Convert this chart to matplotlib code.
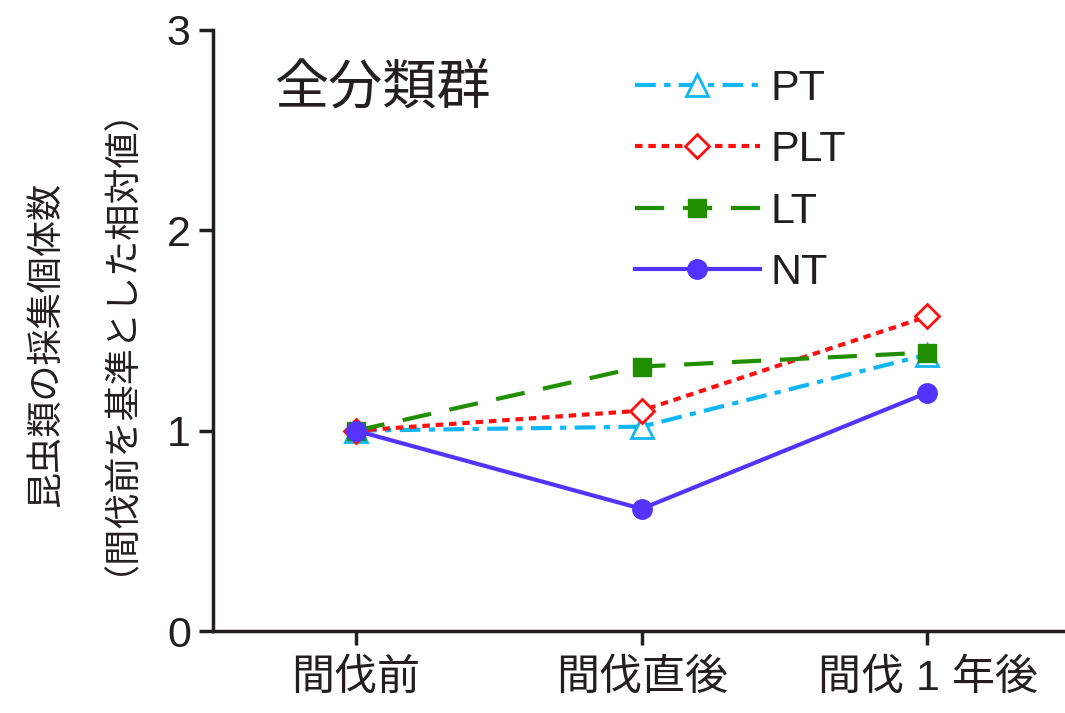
import matplotlib
matplotlib.use("Agg")
import matplotlib.pyplot as plt

plt.rcParams['font.family'] = ['Liberation Sans', 'Noto Sans CJK JP', 'DejaVu Sans']

# data
periods = ['間伐前', '間伐直後', '間伐 1 年後']
pt = [1.0, 1.02, 1.38]
plt_vals = [1.0, 1.10, 1.57]
lt = [1.0, 1.32, 1.39]
nt = [1.0, 0.61, 1.19]

txt = '#231f20'
jp = ['Noto Sans CJK JP', 'DejaVu Sans']

fig = plt.figure(figsize=(10.65, 7.13), dpi=100)
ax = fig.add_axes([0.2, 0.115, 0.805, 0.843])

x = range(len(periods))
ax.plot(x, pt, color='#12b6f5', lw=3, ls=(0, (5, 2, 1.5, 2)), marker='^', ms=16,
        mfc='white', mec='#12b6f5', mew=2, label='PT')
ax.plot(x, plt_vals, color='#ff1010', lw=3, ls=(0, (1.8, 1.4)), marker='D', ms=12,
        mfc='white', mec='#ff1010', mew=2, label='PLT')
ax.plot(x, lt, color='#1f8f00', lw=3, ls=(0, (7, 4.5)), marker='s', ms=13,
        mfc='#1f8f00', mec='#1f8f00', label='LT')
ax.plot(x, nt, color='#5533ff', lw=3, ls='-', marker='o', ms=14,
        mfc='#5533ff', mec='#5533ff', label='NT')

ax.set_xlim(-0.5, 2.5)
ax.set_ylim(0, 3)
ax.set_yticks([0, 1, 2, 3])
ax.set_xticks(list(x))
ax.set_xticklabels(periods)
for s in ['top', 'right']:
    ax.spines[s].set_visible(False)
for s in ['left', 'bottom']:
    ax.spines[s].set_linewidth(2.5)
    ax.spines[s].set_color(txt)
ax.tick_params(axis='both', labelsize=31, width=2.5, length=10, colors=txt)
ax.tick_params(axis='x', pad=10)
ax.tick_params(axis='y', pad=6)

fig.text(0.043, 0.517, '昆虫類の採集個体数', rotation=90, ha='center', va='center',
         fontsize=26, color=txt, family=jp)
fig.text(0.095, 0.548, '（間伐前を基準とした相対値）', rotation=90, ha='center', va='center',
         fontsize=26, color=txt, family=jp)

fig.text(0.258, 0.875, '全分類群', fontsize=39, color=txt, ha='left', va='center',
         family=jp)

leg = ax.legend(loc='upper left', bbox_to_anchor=(0.447, 1.0), frameon=False,
                fontsize=31, handlelength=2.9, labelspacing=0.5, handletextpad=0.25,
                labelcolor=txt)

fig.savefig('out.png', dpi=100)
